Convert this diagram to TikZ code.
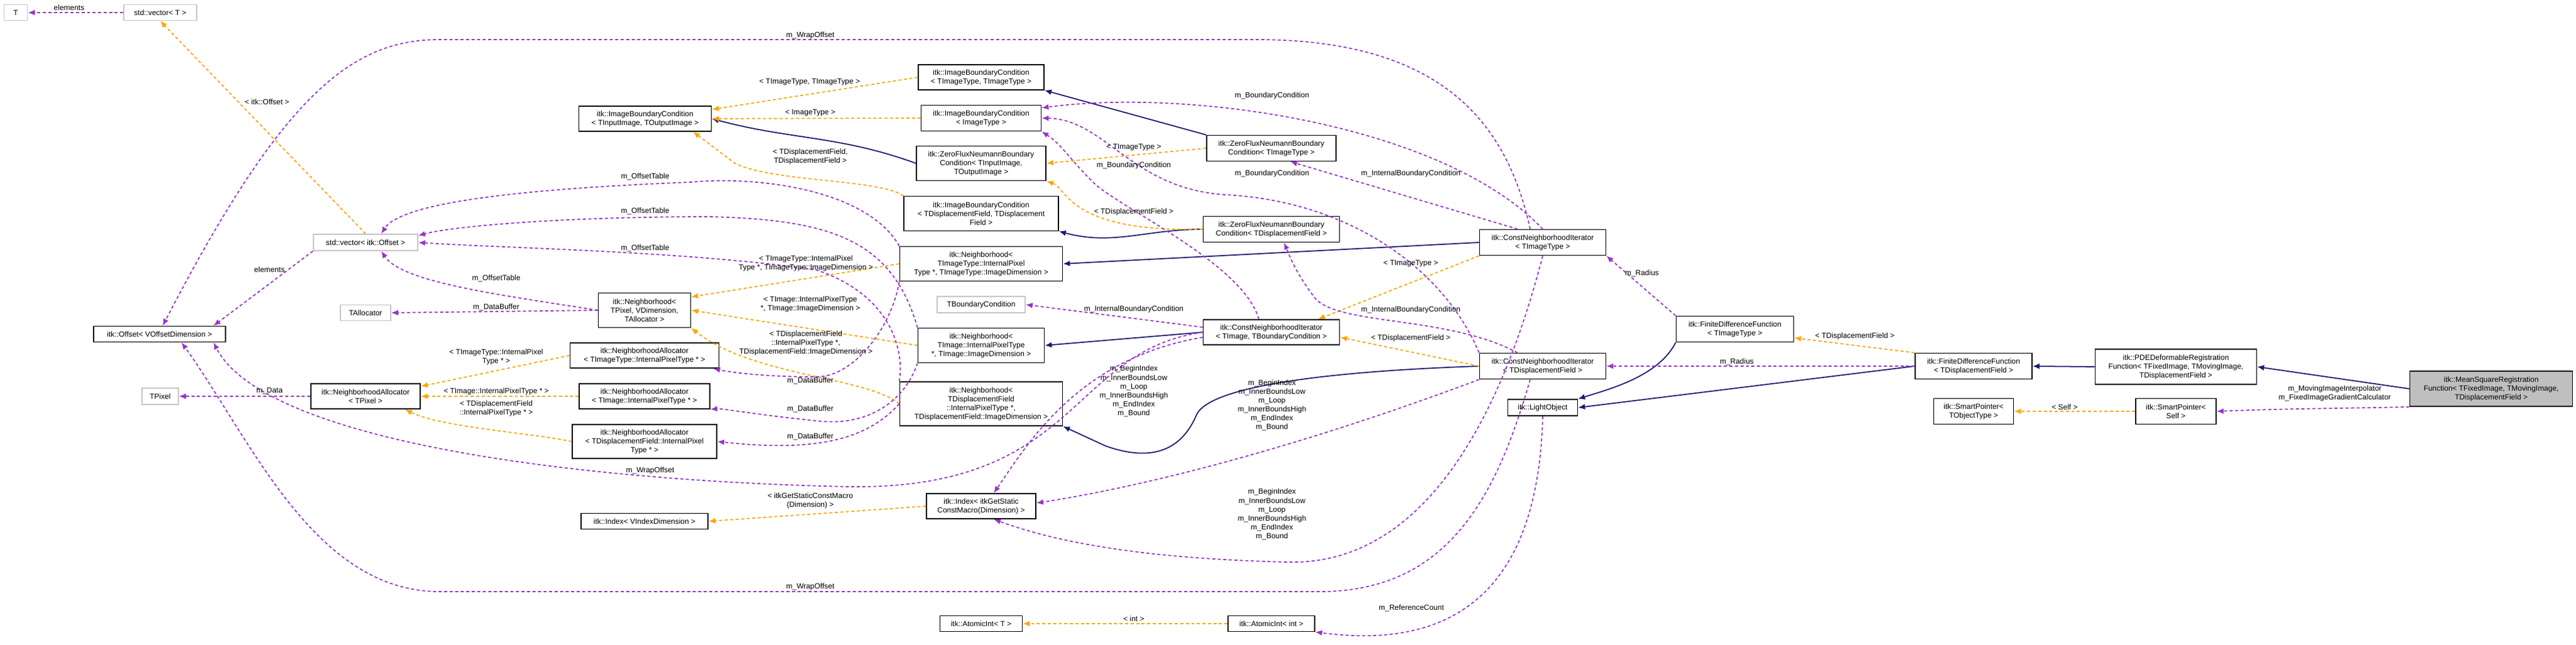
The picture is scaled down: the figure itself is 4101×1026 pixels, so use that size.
\documentclass[tikz,border=0pt]{standalone}
\usepackage{fontspec}
\setmainfont{Liberation Sans}
\usetikzlibrary{arrows.meta}

\definecolor{usecol}{HTML}{9A32CD}
\definecolor{instcol}{HTML}{FFA500}
\definecolor{inhcol}{HTML}{191970}

\tikzset{
  box/.style={draw=black, line width=0.45pt, fill=white, align=center, inner sep=0.5pt,
    font=\fontsize{3.4pt}{4pt}\selectfont},
  ext/.style={box, draw=gray!45},
  wh/.style 2 args={minimum width=#1cm, minimum height=#2cm},
  lbl/.style={align=center, inner sep=0pt, font=\fontsize{3.4pt}{4pt}\selectfont},
  use/.style={draw=usecol, line width=0.5pt, dash pattern=on 1.4pt off 1.1pt,
    -{Latex[length=1.1mm,width=0.9mm]}},
  inst/.style={draw=instcol, line width=0.5pt, dash pattern=on 1.4pt off 1.1pt,
    -{Latex[length=1.1mm,width=0.9mm]}},
  inh/.style={draw=inhcol, line width=0.5pt, -{Latex[length=1.1mm,width=0.9mm]}},
}

\begin{document}
\begin{tikzpicture}[x=0.01cm, y=-0.01cm]
    \useasboundingbox (0,0) rectangle (4101,1026);
    % classes, left to right
    \node[ext,wh={0.37}{0.25}] (tT) at (25,20) {T};
    \node[ext,wh={1.16}{0.25}] (vecT) at (255,20) {std::vector< T >};
    \node[ext,wh={1.66}{0.26}] (vecOff) at (582,386) {std::vector< itk::Offset >};
    \node[box,wh={2.10}{0.25}] (offset) at (254,532) {itk::Offset< VOffsetDimension >};
    \node[ext,wh={0.80}{0.25}] (talloc) at (582,498) {TAllocator};
    \node[ext,wh={0.58}{0.26}] (tpixel) at (255,631) {TPixel};
    \node[box,wh={1.74}{0.40}] (naPix) at (582,631) {itk::NeighborhoodAllocator\\< TPixel >};
    \node[box,wh={2.11}{0.40}] (ibcIO) at (1027,189) {itk::ImageBoundaryCondition\\< TInputImage, TOutputImage >};
    \node[box,wh={1.47}{0.55}] (nbhPix) at (1026,494) {itk::Neighborhood<\\TPixel, VDimension,\\TAllocator >};
    \node[box,wh={2.37}{0.40}] (naImgT) at (1026,566) {itk::NeighborhoodAllocator\\< TImageType::InternalPixelType * >};
    \node[box,wh={2.08}{0.40}] (naImg) at (1026,631) {itk::NeighborhoodAllocator\\< TImage::InternalPixelType * >};
    \node[box,wh={2.30}{0.54}] (naDisp) at (1026,703) {itk::NeighborhoodAllocator\\< TDisplacementField::InternalPixel\\Type * >};
    \node[box,wh={2.02}{0.25}] (idxV) at (1026,830) {itk::Index< VIndexDimension >};
    \node[box,wh={2.00}{0.40}] (ibcTT) at (1562,123) {itk::ImageBoundaryCondition\\< TImageType, TImageType >};
    \node[box,wh={1.91}{0.41}] (ibcT) at (1562,188) {itk::ImageBoundaryCondition\\< ImageType >};
    \node[box,wh={2.06}{0.55}] (zfnIO) at (1562,260) {itk::ZeroFluxNeumannBoundary\\Condition< TInputImage,\\TOutputImage >};
    \node[box,wh={2.46}{0.55}] (ibcDD) at (1562,340) {itk::ImageBoundaryCondition\\< TDisplacementField, TDisplacement\\Field >};
    \node[box,wh={2.59}{0.55}] (nbhImgT) at (1562,420) {itk::Neighborhood<\\TImageType::InternalPixel\\Type *, TImageType::ImageDimension >};
    \node[ext,wh={1.40}{0.26}] (tbc) at (1562,485) {TBoundaryCondition};
    \node[box,wh={2.01}{0.55}] (nbhImg) at (1562,550) {itk::Neighborhood<\\TImage::InternalPixelType\\*, TImage::ImageDimension >};
    \node[box,wh={2.59}{0.70}] (nbhDisp) at (1562,643) {itk::Neighborhood<\\TDisplacementField\\::InternalPixelType *,\\TDisplacementField::ImageDimension >};
    \node[box,wh={1.74}{0.40}] (idxD) at (1562,806) {itk::Index< itkGetStatic\\ConstMacro(Dimension) >};
    \node[box,wh={1.31}{0.25}] (aiT) at (1562,993) {itk::AtomicInt< T >};
    \node[box,wh={2.06}{0.41}] (zfnT) at (2024,236) {itk::ZeroFluxNeumannBoundary\\Condition< TImageType >};
    \node[box,wh={2.17}{0.41}] (zfnD) at (2024,365) {itk::ZeroFluxNeumannBoundary\\Condition< TDisplacementField >};
    \node[box,wh={2.17}{0.40}] (cniB) at (2024,529) {itk::ConstNeighborhoodIterator\\< TImage, TBoundaryCondition >};
    \node[box,wh={1.38}{0.25}] (aiInt) at (2024,993) {itk::AtomicInt< int >};
    \node[box,wh={2.01}{0.41}] (cniT) at (2456,386) {itk::ConstNeighborhoodIterator\\< TImageType >};
    \node[box,wh={2.01}{0.41}] (cniD) at (2456,583) {itk::ConstNeighborhoodIterator\\< TDisplacementField >};
    \node[box,wh={1.11}{0.26}] (light) at (2456,649) {itk::LightObject};
    \node[box,wh={1.87}{0.41}] (fdfT) at (2762,524) {itk::FiniteDifferenceFunction\\< TImageType >};
    \node[box,wh={1.86}{0.41}] (fdfD) at (3142,583) {itk::FiniteDifferenceFunction\\< TDisplacementField >};
    \node[box,wh={2.57}{0.56}] (pde) at (3464,584) {itk::PDEDeformableRegistration\\Function< TFixedImage, TMovingImage,\\TDisplacementField >};
    \node[box,fill=gray!50,wh={2.59}{0.56}] (msr) at (3966,619) {itk::MeanSquareRegistration\\Function< TFixedImage, TMovingImage,\\TDisplacementField >};
    \node[box,wh={1.27}{0.41}] (spT) at (3142,655) {itk::SmartPointer<\\TObjectType >};
    \node[box,wh={1.28}{0.41}] (spS) at (3464,655) {itk::SmartPointer<\\Self >};

    % inheritance
    \draw[inh] (zfnT.north west) -- (ibcTT.south east);
    \draw[inh] (zfnIO.west) to[out=160,in=-15] (ibcIO.east);
    \draw[inh] (zfnD.west) to[out=180,in=-15] (ibcDD.south east);
    \draw[inh] (cniT.west) -- (nbhImgT.east);
    \draw[inh] (cniB.west) -- (nbhImg.east);
    \draw[inh] (cniD.west) .. controls (2150,590) and (1930,610) .. (1905,660)
        .. controls (1880,720) and (1830,735) .. (1760,710) -- (nbhDisp.south east);
    \draw[inh] (fdfT.south west) .. controls (2640,600) and (2560,620) .. (light.north east);
    \draw[inh] (fdfD.west) -- (light.east);
    \draw[inh] (pde.west) -- (fdfD.east);
    \draw[inh] (msr.west) -- (pde.east);

    % template instances
    \draw[inst] (vecOff.north) -- (vecT.south);
    \draw[inst] (ibcTT.west) -- ([yshift=-0.06cm]ibcIO.north east);
    \draw[inst] (ibcT.west) -- (ibcIO.east);
    \draw[inst] (ibcDD.north west) .. controls (1400,285) and (1230,290) .. (1170,260) -- ([xshift=-0.3cm]ibcIO.south east);
    \draw[inst] (nbhImgT.west) -- ([yshift=-0.07cm]nbhPix.north east);
    \draw[inst] (nbhImg.west) -- (nbhPix.east);
    \draw[inst] (nbhDisp.west) .. controls (1380,600) and (1200,600) .. (nbhPix.south east);
    \draw[inst] (naImgT.west) -- ([yshift=-0.05cm]naPix.north east);
    \draw[inst] (naImg.west) -- (naPix.east);
    \draw[inst] (naDisp.west) .. controls (850,690) and (700,680) .. ([xshift=-0.25cm]naPix.south east);
    \draw[inst] (idxD.west) -- (idxV.east);
    \draw[inst] (zfnT.west) -- (zfnIO.east);
    \draw[inst] (zfnD.west) .. controls (1700,370) and (1700,300) .. (zfnIO.south east);
    \draw[inst] (cniT.south west) -- ([xshift=-0.35cm]cniB.north east);
    \draw[inst] (cniD.west) -- ([yshift=-0.08cm]cniB.east);
    \draw[inst] (aiInt.west) -- (aiT.east);
    \draw[inst] (fdfD.north west) -- ([yshift=-0.14cm]fdfT.east);
    \draw[inst] (spS.west) -- (spT.east);

    % usage
    \draw[use] (vecT.west) -- (tT.east);
    \draw[use] (vecOff.south west) -- ([xshift=-0.2cm]offset.north east);
    \draw[use] (naPix.west) -- (tpixel.east);
    \draw[use] (nbhPix.west) .. controls (800,470) and (640,450) .. ([xshift=0.25cm]vecOff.south);
    \draw[use] (nbhPix.west) -- (talloc.east);
    \draw[use] (nbhImgT.north west) .. controls (1380,300) and (1200,280) .. (1100,290)
        .. controls (850,300) and (640,320) .. ([xshift=0.25cm]vecOff.north);
    \draw[use] (nbhImg.north west) .. controls (1420,380) and (1320,350) .. (1130,345)
        .. controls (900,345) and (720,360) .. ([yshift=-0.03cm]vecOff.north east);
    \draw[use] (nbhDisp.north west) .. controls (1440,560) and (1420,470) .. (1300,430)
        .. controls (1100,400) and (800,395) .. (vecOff.east);
    \draw[use] (nbhImgT.south west) .. controls (1420,520) and (1360,600) .. (1300,600)
        .. controls (1200,600) and (1150,590) .. ([xshift=-0.1cm]naImgT.south east);
    \draw[use] (nbhImg.south west) .. controls (1440,640) and (1380,680) .. (1300,670)
        .. controls (1200,660) and (1150,650) .. (naImg.south east);
    \draw[use] (nbhDisp.west) .. controls (1380,700) and (1300,720) .. (naDisp.east);
    \draw[use] ([xshift=-0.2cm]cniT.north) .. controls (2400,200) and (2300,63) .. (2000,63)
        -- (700,63) .. controls (560,63) and (450,150) .. ([xshift=0.05cm]offset.north);
    \draw[use] (cniB.west) .. controls (1700,560) and (1720,780) .. (1350,775)
        .. controls (900,765) and (420,700) .. ([xshift=-0.2cm]offset.south east);
    \draw[use] ([xshift=-0.2cm]cniD.south) .. controls (2380,800) and (2300,942) .. (2100,942)
        -- (700,942) .. controls (500,942) and (400,700) .. ([xshift=0.35cm]offset.south);
    \draw[use] (cniT.north) .. controls (2300,200) and (1900,140) .. ([yshift=-0.05cm]ibcT.north east);
    \draw[use] (cniD.north west) .. controls (2300,430) and (2150,320) .. (1950,310)
        .. controls (1800,300) and (1760,190) .. (ibcT.east);
    \draw[use] ([xshift=-0.2cm]cniB.north) .. controls (1980,420) and (1780,330) .. (1740,290)
        .. controls (1700,250) and (1690,230) .. (ibcT.south east);
    \draw[use] ([xshift=-0.4cm]cniT.north) -- ([xshift=0.3cm]zfnT.south);
    \draw[use] ([xshift=-0.4cm]cniD.north) .. controls (2300,500) and (2120,520) .. (2090,470)
        .. controls (2060,430) and (2050,400) .. ([xshift=0.2cm]zfnD.south);
    \draw[use] ([yshift=0.08cm]cniB.west) -- (tbc.east);
    \draw[use] ([yshift=-0.08cm]cniB.west) .. controls (1720,570) and (1640,700) .. ([xshift=0.2cm]idxD.north);
    \draw[use] (cniD.south west) .. controls (2100,700) and (1850,770) .. ([yshift=0.05cm]idxD.east);
    \draw[use] (cniT.south) .. controls (2380,700) and (2250,900) .. (2050,895)
        .. controls (1850,890) and (1700,870) .. ([xshift=0.2cm]idxD.south);
    \draw[use] (light.south) .. controls (2450,900) and (2350,1040) .. (aiInt.south east);
    \draw[use] (fdfT.north west) -- (cniT.south east);
    \draw[use] (fdfD.west) -- (cniD.east);
    \draw[use] (msr.south west) .. controls (3760,650) and (3650,650) .. (spS.east);

    % labels
    \node[lbl] (lElemT) at (110,12) {elements};
    \node[lbl] (lElemO) at (429,429) {elements};
    \node[lbl] (lItkOff) at (425,162) {< itk::Offset >};
    \node[lbl] (lWrap1) at (1290,56) {m\_WrapOffset};
    \node[lbl] (lWrap2) at (1035,749) {m\_WrapOffset};
    \node[lbl] (lWrap3) at (1290,934) {m\_WrapOffset};
    \node[lbl] (lTT) at (1289,131) {< TImageType, TImageType >};
    \node[lbl] (lIT) at (1290,180) {< ImageType >};
    \node[lbl] (lDD) at (1290,249) {< TDisplacementField,\\TDisplacementField >};
    \node[lbl] (lOff1) at (1027,281) {m\_OffsetTable};
    \node[lbl] (lOff2) at (1027,336) {m\_OffsetTable};
    \node[lbl] (lOff3) at (1027,395) {m\_OffsetTable};
    \node[lbl] (lOff4) at (790,443) {m\_OffsetTable};
    \node[lbl] (lBuf0) at (790,489) {m\_DataBuffer};
    \node[lbl] (lNbT) at (1283,419) {< TImageType::InternalPixel\\Type *, TImageType::ImageDimension >};
    \node[lbl] (lNbI) at (1290,484) {< TImage::InternalPixelType\\*, TImage::ImageDimension >};
    \node[lbl] (lNbD) at (1283,546) {< TDisplacementField\\::InternalPixelType *,\\TDisplacementField::ImageDimension >};
    \node[lbl] (lBuf1) at (1290,606) {m\_DataBuffer};
    \node[lbl] (lBuf2) at (1290,651) {m\_DataBuffer};
    \node[lbl] (lBuf3) at (1290,695) {m\_DataBuffer};
    \node[lbl] (lNaT) at (790,568) {< TImageType::InternalPixel\\Type * >};
    \node[lbl] (lNaI) at (790,623) {< TImage::InternalPixelType * >};
    \node[lbl] (lNaD) at (790,650) {< TDisplacementField\\::InternalPixelType * >};
    \node[lbl] (lData) at (429,623) {m\_Data};
    \node[lbl] (lMacro) at (1290,797) {< itkGetStaticConstMacro\\(Dimension) >};
    \node[lbl] (lBc1) at (2025,152) {m\_BoundaryCondition};
    \node[lbl] (lZT) at (1805,235) {< TImageType >};
    \node[lbl] (lBc2) at (1805,263) {m\_BoundaryCondition};
    \node[lbl] (lBc3) at (2025,276) {m\_BoundaryCondition};
    \node[lbl] (lIbc1) at (2246,276) {m\_InternalBoundaryCondition};
    \node[lbl] (lZD) at (1805,337) {< TDisplacementField >};
    \node[lbl] (lCT) at (2246,420) {< TImageType >};
    \node[lbl] (lIbc2) at (1805,492) {m\_InternalBoundaryCondition};
    \node[lbl] (lIbc3) at (2246,493) {m\_InternalBoundaryCondition};
    \node[lbl] (lCD) at (2246,538) {< TDisplacementField >};
    \node[lbl] (lIdx1) at (1805,623) {m\_BeginIndex\\m\_InnerBoundsLow\\m\_Loop\\m\_InnerBoundsHigh\\m\_EndIndex\\m\_Bound};
    \node[lbl] (lIdx2) at (2025,645) {m\_BeginIndex\\m\_InnerBoundsLow\\m\_Loop\\m\_InnerBoundsHigh\\m\_EndIndex\\m\_Bound};
    \node[lbl] (lIdx3) at (2025,819) {m\_BeginIndex\\m\_InnerBoundsLow\\m\_Loop\\m\_InnerBoundsHigh\\m\_EndIndex\\m\_Bound};
    \node[lbl] (lRef) at (2247,968) {m\_ReferenceCount};
    \node[lbl] (lInt) at (1805,985) {< int >};
    \node[lbl] (lRad1) at (2614,435) {m\_Radius};
    \node[lbl] (lFD) at (2953,535) {< TDisplacementField >};
    \node[lbl] (lRad2) at (2765,576) {m\_Radius};
    \node[lbl] (lMov) at (3717,626) {m\_MovingImageInterpolator\\m\_FixedImageGradientCalculator};
    \node[lbl] (lSelf) at (3287,648) {< Self >};
\end{tikzpicture}
\end{document}
